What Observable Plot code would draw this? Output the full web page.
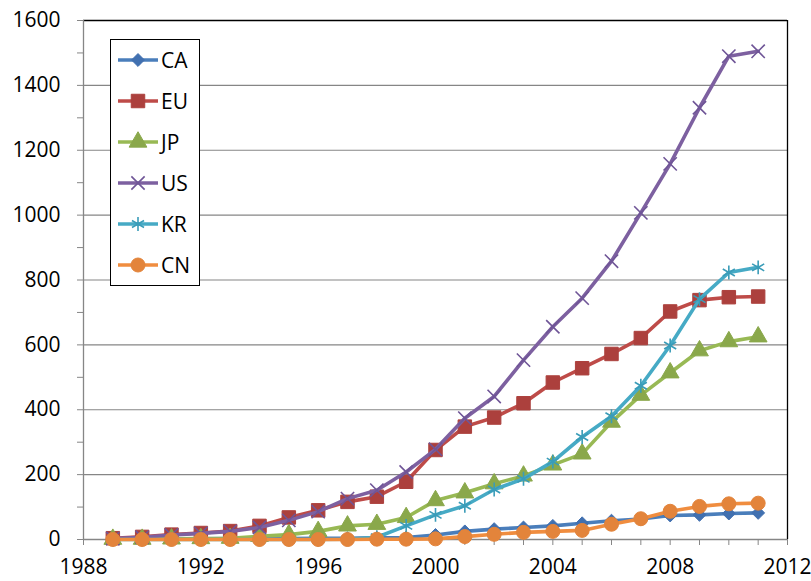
<!DOCTYPE html>
<html>
<head>
<meta charset="utf-8">
<script src="https://cdn.jsdelivr.net/npm/d3@7"></script>
<script src="https://cdn.jsdelivr.net/npm/@observablehq/plot@0.6"></script>
<style>
  html, body { margin: 0; padding: 0; background: #fff; }
  #wrap { position: relative; width: 811px; height: 581px; font-family: "Open Sans", sans-serif; }
  #legend { position: absolute; left: 0; top: 0; }
</style>
</head>
<body>
<div id="wrap"><div id="chart"></div><svg id="legend" width="811" height="300"></svg></div>
<script>
const years = [1989,1990,1991,1992,1993,1994,1995,1996,1997,1998,1999,2000,2001,2002,2003,2004,2005,2006,2007,2008,2009,2010,2011];
const CA = [1,1,2,2,3,3,3,4,4,5,6,14,25,32,37,42,50,58,63,74,76,80,82];
const EU = [4,8,15,20,26,42,68,90,116,132,178,276,348,376,420,484,528,572,621,703,738,747,749];
const JP = [1,1,2,3,4,10,15,25,42,47,68,120,144,172,196,230,264,362,445,514,582,610,625];
const US = [3,7,14,19,25,37,59,86,126,152,208,278,374,441,553,656,744,858,1007,1158,1331,1490,1505];
const KR = [0,0,0,0,0,0,0,0,1,7,42,76,104,154,187,240,316,380,474,598,741,823,839];
const CN = [0,0,0,0,0,0,0,0,0,1,1,2,9,16,22,25,28,47,64,87,102,110,112];

const seriesNames = ["CA","EU","JP","US","KR","CN"];
const seriesValues = [CA, EU, JP, US, KR, CN];
const lineColors = ["#4A7EBB","#BE4B48","#98B954","#7D60A0","#46AAC5","#F08D3F"];
const markColors = ["#4170B0","#AC403D","#8AA84B","#6F5597","#3A9CB8","#E3843B"];
const symbols = ["diamond2","square","triangle","times","asterisk","circle"];
const d3Symbols = [d3.symbolDiamond2, d3.symbolSquare, d3.symbolTriangle, d3.symbolTimes, d3.symbolAsterisk, d3.symbolCircle];
const symbolR = [5.8, 7.6, 6.6, 6.1, 6.6, 7.0];
const strokeOnly = [false,false,false,true,true,false];

const xTicks = [1988,1992,1996,2000,2004,2008,2012];
const xMinor = [1988,1989,1990,1991,1992,1993,1994,1995,1996,1997,1998,1999,2000,2001,2002,2003,2004,2005,2006,2007,2008,2009,2010,2011,2012];
const yTicks = [0,200,400,600,800,1000,1200,1400,1600];
const yMinor = [0,100,200,300,400,500,600,700,800,900,1000,1100,1200,1300,1400,1500,1600];
const yGrid = [200,400,600,800,1000,1200,1400];

const seriesMarks = [];
seriesNames.forEach((name, k) => {
  const rows = years.map((yr, i) => ({year: yr, value: seriesValues[k][i], name}));
  seriesMarks.push(Plot.line(rows, {x: "year", y: "value", stroke: lineColors[k], strokeWidth: 3.6, strokeLinejoin: "round"}));
  if (strokeOnly[k]) {
    seriesMarks.push(Plot.dot(rows, {x: "year", y: "value", symbol: symbols[k], r: symbolR[k], stroke: markColors[k], strokeWidth: 1.6, fill: "none"}));
  } else {
    seriesMarks.push(Plot.dot(rows, {x: "year", y: "value", symbol: symbols[k], r: symbolR[k], fill: markColors[k], stroke: markColors[k], strokeWidth: 1}));
  }
});

const chart = Plot.plot({
  width: 811,
  height: 581,
  marginLeft: 83,
  marginRight: 24,
  marginTop: 20,
  marginBottom: 42,
  style: {fontFamily: "'Open Sans', sans-serif", fontSize: "21px", color: "#000", background: "#fff"},
  x: {domain: [1988, 2012], label: null},
  y: {domain: [0, 1600], label: null},
  marks: [
    Plot.gridY(yGrid, {stroke: "#868686", strokeOpacity: 1, strokeWidth: 1.2}),
    Plot.ruleY([1600], {stroke: "#000", strokeWidth: 1.3}),
    Plot.ruleX([2012], {stroke: "#000", strokeWidth: 1.3}),
    Plot.ruleX([1988], {stroke: "#868686", strokeWidth: 1.3}),
    Plot.ruleY([0], {stroke: "#868686", strokeWidth: 1.3}),
    Plot.axisY(yMinor, {tickSize: 6, text: null, label: null, stroke: "#868686", strokeOpacity: 1}),
    Plot.axisY(yTicks, {tickSize: 0, tickPadding: 23, label: null, tickFormat: d => String(d), fill: "#000", fontSize: 21}),
    Plot.axisX(xMinor, {tickSize: 6, text: null, label: null, stroke: "#868686", strokeOpacity: 1}),
    Plot.axisX(xTicks, {tickSize: 0, tickPadding: 20, label: null, tickFormat: d => String(d), fill: "#000", fontSize: 21}),
    ...seriesMarks
  ]
});
document.getElementById("chart").appendChild(chart);

// Legend
const lg = d3.select("#legend");
lg.append("rect").attr("x", 110.5).attr("y", 39.5).attr("width", 89).attr("height", 246)
  .attr("fill", "#fff").attr("stroke", "#000").attr("stroke-width", 1);
seriesNames.forEach((name, k) => {
  const cy = 60 + k * 41;
  const g = lg.append("g");
  g.append("line").attr("x1", 118).attr("x2", 158).attr("y1", cy).attr("y2", cy)
    .attr("stroke", lineColors[k]).attr("stroke-width", 3.6);
  const size = Math.PI * symbolR[k] * symbolR[k];
  const p = g.append("path").attr("d", d3.symbol(d3Symbols[k], size)())
    .attr("transform", `translate(138,${cy})`);
  if (strokeOnly[k]) p.attr("fill", "none").attr("stroke", markColors[k]).attr("stroke-width", 1.6);
  else p.attr("fill", markColors[k]).attr("stroke", markColors[k]);
  g.append("text").attr("x", 161).attr("y", cy).attr("dy", "0.36em")
    .attr("font-family", "'Open Sans', sans-serif")
    .attr("font-size", 21).attr("fill", "#000").text(name);
});
</script>
</body>
</html>
